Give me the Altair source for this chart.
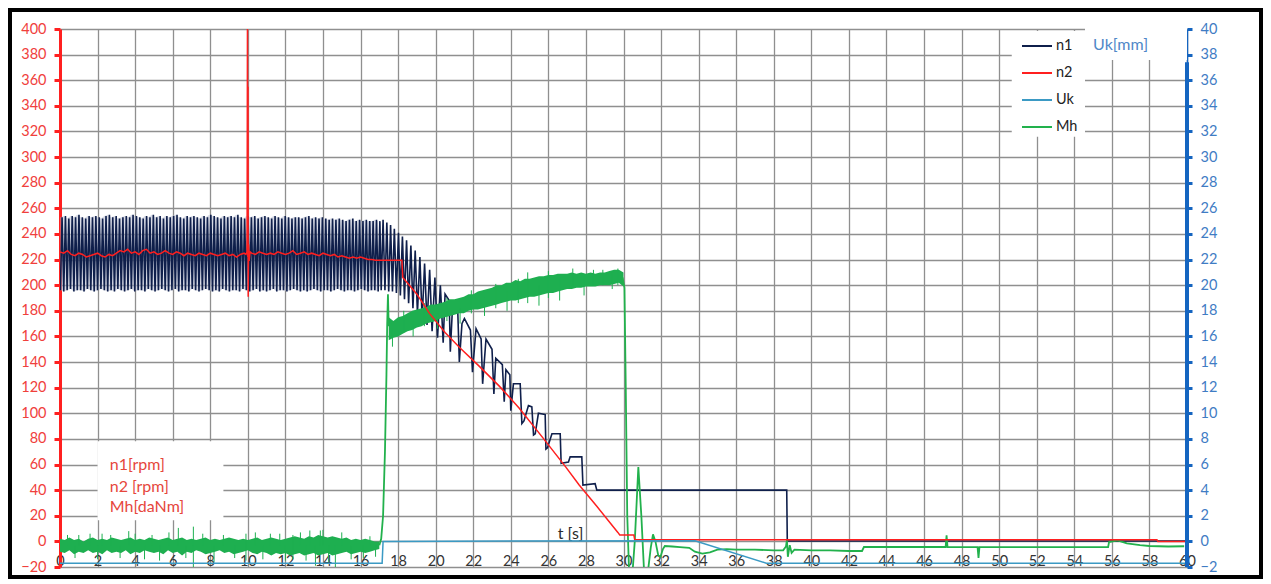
import altair as alt
import pandas as pd

W, H = 1127, 538

# ---------------- values ----------------
# n1 [rpm] steady oscillation (0 .. 17.1 s): one peak and one trough per cycle
N1_PERIOD = 0.18
N1_HI = [253, 254, 252, 254, 253, 255, 253, 252, 254, 253,
         254, 253, 252, 254, 255, 253, 254, 252, 253, 254,
         253, 255, 254, 253, 252, 254, 253, 255, 253, 254,
         252, 254, 253, 254, 255, 253, 252, 254, 253, 254,
         253, 252, 254, 253, 255, 254, 253, 252, 254, 253,
         254, 253, 255, 253, 252, 254, 253, 254, 252, 253,
         254, 253, 252, 254, 253, 252, 254, 253, 252, 253,
         253, 252, 253, 254, 252, 253, 252, 253, 252, 251,
         252, 251, 252, 251, 250, 251, 252, 250, 251, 250,
         251, 250, 250, 251, 250]
N1_LO = [196, 195, 196, 197, 195, 196, 196, 195, 197, 196,
         195, 196, 197, 196, 195, 196, 195, 197, 196, 195,
         196, 197, 195, 196, 196, 195, 197, 196, 195, 196,
         197, 196, 195, 196, 197, 195, 196, 196, 195, 197,
         196, 195, 196, 197, 196, 195, 196, 195, 197, 196,
         195, 196, 196, 195, 197, 196, 195, 196, 197, 195,
         196, 195, 196, 197, 195, 196, 196, 195, 196, 197,
         196, 195, 196, 195, 196, 197, 196, 195, 196, 196,
         195, 196, 197, 196, 195, 196, 196, 195, 196, 197,
         196, 195, 196, 196, 195]
# n1 run-down (17.1 .. 60 s)
N1_DEC_T = [17.10, 17.20, 17.30, 17.40, 17.50, 17.60, 17.70, 17.80, 17.91, 18.02,
            18.12, 18.23, 18.34, 18.45, 18.56, 18.68, 18.79, 18.91, 19.03, 19.16,
            19.28, 19.41, 19.54, 19.68, 19.81, 19.96, 20.10, 20.25, 20.40, 20.50,
            20.72, 20.78, 20.90, 21.18, 21.26, 21.40, 21.53, 21.85, 21.96, 22.15,
            22.42, 22.50, 22.68, 23.00, 23.10, 23.20, 23.55, 23.65, 23.74, 23.95,
            24.00, 24.14, 24.50, 24.59, 24.70, 24.94, 25.12, 25.21, 25.30, 25.47,
            25.83, 25.87, 25.95, 26.19, 26.63, 26.68, 27.07, 27.16, 27.78, 27.84,
            28.49, 28.58, 38.69, 38.72, 59.90]
N1_DEC_V = [196, 251, 196, 249, 195, 247, 195, 244, 194, 241,
            192, 238, 189, 235, 186, 231, 182, 227, 178, 222,
            173, 217, 169, 212, 164, 206, 159, 200, 155, 193,
            188, 148, 184, 178, 140, 170, 174, 165, 132, 166,
            158, 123, 158, 150, 115, 143, 138, 109, 134, 130,
            102, 123, 123, 92, 94, 106, 105, 83, 84, 100,
            99, 72, 73, 84, 84, 61, 62, 66, 66, 44,
            45, 40, 40, 0.3, 0.3]

# n2 [rpm]
N2_STEP = 0.2
N2_A = [226, 225, 227, 224, 223, 225, 224, 222, 223, 224,
        225, 223, 222, 224, 223, 225, 227, 226, 228, 225,
        226, 224, 227, 228, 225, 226, 224, 225, 227, 225,
        224, 226, 225, 223, 225, 224, 223, 225, 224, 223,
        225, 224, 223, 224, 225, 223, 224, 222, 224, 225]          # t = 0 .. 9.8
N2_SPIKE_T = [9.90, 9.96, 9.98, 10.00, 10.01, 10.02, 10.04, 10.07, 10.12]
N2_SPIKE_V = [224, 226, 400, 222, 355, 191, 232, 219, 226]
N2_B = [225, 224, 226, 225, 224, 225, 224, 226, 225, 224,
        225, 227, 224, 225, 226, 224, 225, 224, 223, 225,
        224, 223, 224, 222, 223, 222, 221, 222, 221, 222,
        221, 220, 220, 219.5, 219.5, 219.5, 219.5, 219.5, 219.5, 219.5,
        219.5]                                                     # t = 10.2 .. 18.2
N2_DEC_T = [18.25, 18.60, 19.00, 19.67, 20.50, 21.30, 22.30, 23.40, 24.45, 25.70,
            26.93, 27.64, 28.60, 29.70, 29.80, 30.55, 30.60, 58.40, 58.45, 59.95]
N2_DEC_V = [206, 200, 193, 178, 163, 151, 137, 121, 104, 81,
            58, 44, 27, 7, 5, 5, 1.3, 1.3, 0, 0]

# Uk [mm] (right axis)
UK_T = [0, 17.15, 17.20, 33.80, 37.60, 59.95]
UK_V = [-1.7, -1.7, 0, 0.05, -1.7, -1.7]
UK_AXIS_BAR = [37.4, -2]

# Mh [daNm] noisy band: low / high edge every 0.25 s
MH_STEP = 0.25
MH_HI_A = [2, 1, 3, 1, 2, 0, 2, 3, 1, 2, 1, 3, 2, 1, 2, 3, 1, 2, 1, 3,
           2, 1, 2, 3, 1, 2, 3, 1, 2, 1, 2, 3, 1, 2, 1, 2, 3, 2, 1, 2,
           1, 2, 3, 1, 2, 3, 2, 1, 2, 3, 4, 3, 2, 4, 3, 5, 4, 3, 4, 3,
           2, 3, 1, 2, 1, 2, 1, 0, 0]                               # t = 0 .. 17
MH_LO_A = [-8, -9, -7, -10, -8, -9, -7, -9, -8, -10, -7, -9, -8, -9, -7, -10, -8, -9, -7, -8,
           -9, -8, -10, -7, -9, -8, -11, -8, -9, -7, -8, -10, -9, -8, -7, -9, -8, -10, -9, -8,
           -7, -9, -10, -8, -9, -11, -9, -10, -9, -11, -10, -9, -11, -10, -9, -11, -10, -9, -11, -10,
           -9, -8, -10, -9, -8, -9, -8, -7, -6]
MH_B_START = 17.5
MH_HI_B = [175, 172, 175, 176, 178, 180, 181, 182, 183, 185, 185, 186, 187, 189, 189, 190, 191,
           193, 193, 195, 196, 197, 198, 200, 200, 202, 202, 204, 203, 205, 205, 206, 207, 207,
           208, 208, 209, 209, 209, 210, 209, 210, 209, 210, 209, 210, 210, 211, 212, 212, 210]
MH_LO_B = [157, 159, 160, 162, 164, 165, 167, 168, 170, 171, 172, 174, 175, 176, 177, 178, 178,
           180, 181, 181, 182, 183, 184, 185, 186, 187, 188, 188, 189, 190, 191, 191, 192, 193,
           194, 194, 195, 196, 197, 197, 198, 198, 199, 199, 199, 200, 200, 200, 201, 202, 199]
MH_RISE_T = [17.00, 17.10, 17.20, 17.30, 17.38, 17.42, 17.46, 17.50]
MH_RISE_V = [-3, 2, 20, 70, 130, 170, 193, 168]
MH_TAIL_T = [29.95, 30.05, 30.12, 30.20, 30.30, 30.45, 30.60, 30.79, 30.95, 31.10,
             31.25, 31.45, 31.57, 31.70, 31.85, 31.97, 32.10, 32.20, 32.60, 33.00,
             33.50, 33.80, 34.20, 34.60, 35.00, 35.50, 36.00, 37.00, 38.00, 38.50,
             38.65, 38.70, 38.75, 38.85, 38.95, 39.10, 40.00, 41.00, 42.00, 42.70,
             42.80, 47.15, 47.20, 47.25, 48.85, 48.90, 48.95, 52.00, 55.80, 55.85,
             56.30, 56.80, 57.50, 58.00, 59.00, 59.85]
MH_TAIL_V = [206, 198, 120, 20, -25, -30, 0, 58, 20, -25,
             -30, -5, 5.5, 0, -11, -12, -6, -3.6, -4, -4.5,
             -5, -8, -9.5, -8.5, -6.5, -6, -6.5, -6.5, -7, -7,
             -4, 1, -12, -3, -9, -6.5, -7, -7, -7.5, -7.5,
             -4.4, -4.4, 4.7, -4.4, -4.5, -13, -4.5, -4.5, -4.5, -0.5,
             0.8, -1.5, -3, -3.6, -4, -3.8]
# single noise spikes: time, lower end, upper end
MH_SPIKE_T = [0.4, 0.8, 1.0, 1.6, 2.0, 2.24, 2.7, 3.2, 3.66, 4.0, 4.5, 4.9, 5.3, 5.8, 6.3,
              6.7, 7.1, 7.1, 7.6, 8.2, 8.7, 9.3, 9.9, 10.4, 10.8, 11.2, 11.7, 12.0, 12.4, 12.8,
              13.1, 13.3, 13.6, 13.86, 14.0, 14.3, 14.66, 15.0, 15.5, 16.15, 16.5, 16.8,
              17.7, 18.3, 18.8, 19.4, 20.1, 20.6, 21.3, 21.9, 22.6, 23.2, 23.8, 24.4, 24.9, 25.5,
              26.0, 26.6, 27.3, 27.9, 28.4, 28.9, 29.4, 29.7]
MH_SPIKE_LO = [-3, -13, -3, -3, -14, -3, -3, -13, -3, -3, -14, -3, -15, -3, -3,
               -13, -20, -3, -3, -16, -3, -13, -15, -3, -14, -3, -3, -15, -14, -3,
               -15, -3, -19, -3, -3, -16, -20, -3, -14, -13, -3, -12,
               152, 163, 160, 168, 166, 172, 170, 178, 176, 182, 180, 186, 186, 184,
               190, 188, 200, 192, 200, 200, 197, 200]
MH_SPIKE_HI = [5, -3, 5, 6, -3, 6, 5, -3, 8, 6, -3, 5, -3, 7, 10.5,
               -3, -3, 11.5, 6, -3, 5, -3, 6, 7, -3, 6, 6, -3, 5, 7,
               -3, 8.5, -3, 8.5, 9, -3, -3, 7, -3, -3, 4, -3,
               165, 180, 172, 186, 178, 190, 182, 196, 190, 201, 195, 205, 210, 200,
               211, 205, 213, 208, 212, 212, 210, 213]

SERIES = ["n1", "n2", "Uk", "Mh"]
COLORS = ["#0F1F4B", "#FF1F1F", "#3B9AC4", "#22B14C"]

# annotation texts and white label boxes (data units)
ANN_TEXT = ["n1[rpm]", "n2 [rpm]", "Mh[daNm]", "Uk[mm]", "t [s]"]
ANN_T = [2.65, 2.65, 2.65, 55.0, 26.5]
ANN_V = [59.4, 42.4, 26.8, 387.5, 5.5]
ANN_COL = ["#E6463C", "#E6463C", "#E6463C", "#4F88C8", "#2B2B2B"]
BOX_T1 = [2.0, 50.67, 54.57]
BOX_T2 = [8.7, 54.57, 60.0]
BOX_V1 = [16.4, 315.9, 375.8]
BOX_V2 = [78.1, 398.4, 401.5]

# ---------------- tables ----------------
rows, env = [], []
for k, (hi, lo) in enumerate(zip(N1_HI, N1_LO)):
    rows.append({"t": round(k * N1_PERIOD + 0.02, 3), "v": lo, "s": "n1", "grp": "n1"})
    rows.append({"t": round(k * N1_PERIOD + 0.11, 3), "v": hi, "s": "n1", "grp": "n1"})
    env.append({"t": round(k * N1_PERIOD + 0.02, 3), "lo": lo, "hi": hi})
n1_env_df = pd.DataFrame(env)
for t, v in zip(N1_DEC_T, N1_DEC_V):
    rows.append({"t": t, "v": v, "s": "n1", "grp": "n1"})
n1_df = pd.DataFrame(rows)

rows = []
for i, v in enumerate(N2_A):
    rows.append({"t": round(i * N2_STEP, 2), "v": v})
for t, v in zip(N2_SPIKE_T, N2_SPIKE_V):
    rows.append({"t": t, "v": v})
for i, v in enumerate(N2_B):
    rows.append({"t": round(10.2 + i * N2_STEP, 2), "v": v})
for t, v in zip(N2_DEC_T, N2_DEC_V):
    rows.append({"t": t, "v": v})
n2_df = pd.DataFrame(rows)
n2_df["s"] = "n2"
n2_df["grp"] = "n2"

uk_df = pd.DataFrame({"t": UK_T, "v": UK_V, "s": "Uk", "grp": "Uk"})
ukbar_df = pd.DataFrame({"a": [UK_AXIS_BAR[0]], "b": [UK_AXIS_BAR[1]]})

rows = []
for i, (lo, hi) in enumerate(zip(MH_LO_A, MH_HI_A)):
    rows.append({"t": round(i * MH_STEP, 2), "lo": lo, "hi": hi, "grp": "A"})
for i, (lo, hi) in enumerate(zip(MH_LO_B, MH_HI_B)):
    rows.append({"t": round(MH_B_START + i * MH_STEP, 2), "lo": lo, "hi": hi, "grp": "B"})
band_df = pd.DataFrame(rows)

rows = []
for t, v in zip(MH_RISE_T, MH_RISE_V):
    rows.append({"t": t, "v": v, "s": "Mh", "grp": "rise"})
for t, v in zip(MH_TAIL_T, MH_TAIL_V):
    rows.append({"t": t, "v": v, "s": "Mh", "grp": "tail"})
mh_df = pd.DataFrame(rows)
spike_df = pd.DataFrame({"t": MH_SPIKE_T, "lo": MH_SPIKE_LO, "hi": MH_SPIKE_HI})

ann_df = pd.DataFrame({"t": ANN_T, "v": ANN_V, "label": ANN_TEXT, "col": ANN_COL})
box_df = pd.DataFrame({"t": BOX_T1, "t2": BOX_T2, "v": BOX_V1, "v2": BOX_V2})
frame_df = pd.DataFrame({"a": [0]})

# ---------------- encodings ----------------
FONT = "Lato"
GRID = "#8F8F8F"
XS = alt.Scale(domain=[0, 60], nice=False, zero=False)
XAX = alt.Axis(values=list(range(0, 61, 2)), grid=True, gridColor=GRID, gridWidth=1.3,
               domain=False, ticks=False, tickSize=0, labelPadding=-13, labelFlush=False,
               labelOverlap=False, labelFont=FONT, labelFontSize=14.5, labelColor="#333333",
               title=None)
YLS = alt.Scale(domain=[-20, 400], nice=False, zero=False)
YLAX = alt.Axis(values=list(range(-20, 401, 20)), grid=True, gridColor=GRID, gridWidth=1.3,
                domainColor="#FF2020", domainWidth=3, tickColor="#FF2020", tickWidth=3,
                tickSize=6, labelColor="#F0403C", labelFont=FONT, labelFontSize=14.5,
                labelPadding=8, labelOverlap=False, title=None)
YRS = alt.Scale(domain=[-2, 40], nice=False, zero=False)
YRAX = alt.Axis(orient="right", values=list(range(-2, 41, 2)), grid=False,
                domainColor="#1565C0", domainWidth=1.5, tickColor="#1565C0", tickWidth=3,
                tickSize=5, labelColor="#3F7CC4", labelFont=FONT, labelFontSize=14.5,
                labelPadding=8, labelOverlap=False, title=None)


def X(f):
    return alt.X(f"{f}:Q", scale=XS, axis=XAX)


def YL(f):
    return alt.Y(f"{f}:Q", scale=YLS, axis=YLAX)


def YR(f):
    return alt.Y(f"{f}:Q", scale=YRS, axis=YRAX)


STROKE = alt.Stroke(
    "s:N",
    scale=alt.Scale(domain=SERIES, range=COLORS),
    legend=alt.Legend(orient="none", legendX=961, legendY=1, title=None, padding=0,
                      symbolType="stroke", symbolSize=900, symbolStrokeWidth=2,
                      labelFont=FONT, labelFontSize=14.5, labelColor="#222222",
                      labelOffset=3, rowPadding=4),
)

boxes = alt.Chart(box_df).mark_rect(fill="white").encode(
    x=X("t"), x2=alt.X2("t2"), y=YL("v"), y2=alt.Y2("v2"))

n1_env = alt.Chart(n1_env_df).mark_area(color="#B9C0D3", opacity=0.55).encode(
    x=X("t"), y=YL("lo"), y2=alt.Y2("hi"))

n1_line = alt.Chart(n1_df).mark_line(strokeWidth=1.6, clip=True).encode(
    x=X("t"), y=YL("v"), stroke=STROKE, detail="grp:N", order="t:Q")

band = alt.Chart(band_df).mark_area(color="#1EAF50", opacity=1).encode(
    x=X("t"), y=YL("lo"), y2=alt.Y2("hi"), detail="grp:N")

spikes = alt.Chart(spike_df).mark_rule(color="#1EAF50", strokeWidth=1).encode(
    x=X("t"), y=YL("lo"), y2=alt.Y2("hi"))

mh_line = alt.Chart(mh_df).mark_line(strokeWidth=1.8, clip=True).encode(
    x=X("t"), y=YL("v"), stroke=STROKE, detail="grp:N", order="t:Q")

n2_line = alt.Chart(n2_df).mark_line(strokeWidth=1.5, clip=True).encode(
    x=X("t"), y=YL("v"), stroke=STROKE, detail="grp:N", order="t:Q")

texts = alt.Chart(ann_df).mark_text(align="left", baseline="middle", font=FONT,
                                    fontSize=16).encode(
    x=X("t"), y=YL("v"), text="label:N", color=alt.Color("col:N", scale=None))

frame = alt.Chart(frame_df).mark_rect(fill="white", fillOpacity=0, stroke="#000000",
                                      strokeWidth=4).encode(
    x=alt.value(-50), x2=alt.value(W + 74), y=alt.value(-19), y2=alt.value(H + 10))

left = alt.layer(boxes, n1_env, n1_line, band, spikes, mh_line, n2_line, texts, frame)

uk_line = alt.Chart(uk_df).mark_line(strokeWidth=1.5).encode(
    x=X("t"), y=YR("v"), stroke=STROKE, detail="grp:N", order="t:Q")
uk_bar = alt.Chart(ukbar_df).mark_rule(color="#1565C0", strokeWidth=4).encode(
    x=alt.value(W), y=YR("a"), y2=alt.Y2("b"))
right = alt.layer(uk_line, uk_bar)

chart = alt.layer(left, right).resolve_scale(y="independent").properties(
    width=W, height=H,
    padding={"left": 52, "top": 21, "right": 76, "bottom": 12},
    autosize=alt.AutoSizeParams(type="none"),
    background="white",
).configure_view(stroke=None)

chart.save("out.html", embed_options={"renderer": "svg", "actions": False})
